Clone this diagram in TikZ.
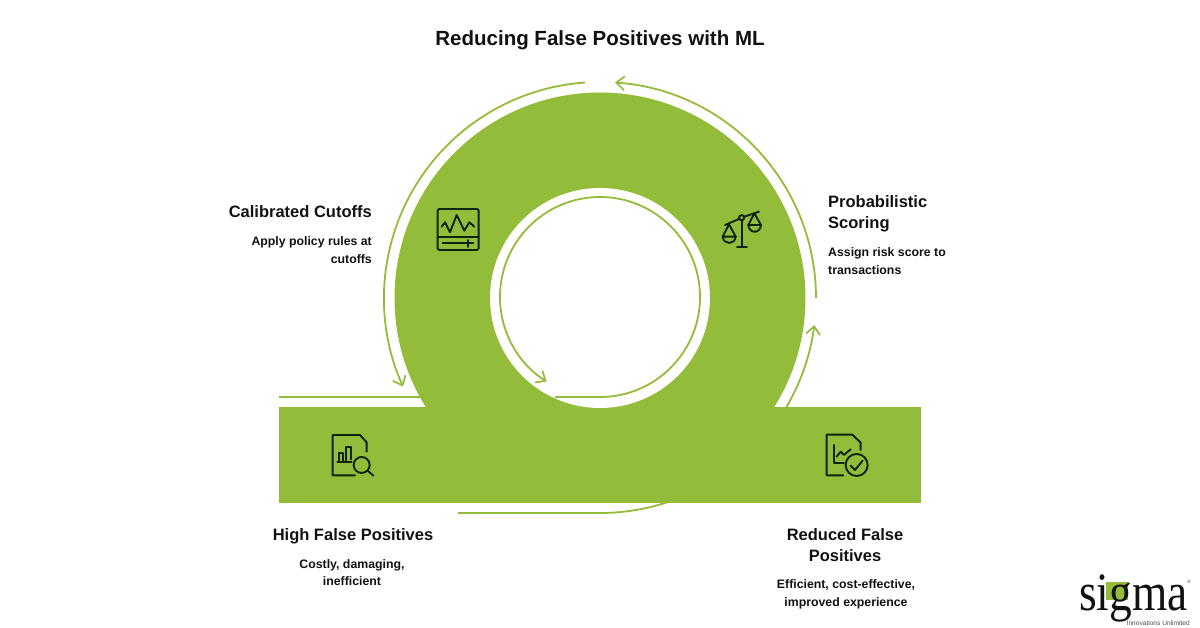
\documentclass[tikz,border=0pt]{standalone}
\usepackage{fontspec}
\setmainfont{Liberation Sans}
\newfontfamily\logofont[FakeStretch=0.84]{Liberation Serif}
\usetikzlibrary{arrows.meta,calc}
\definecolor{ringgreen}{HTML}{94BC3B}
\definecolor{inkdark}{HTML}{111111}
\definecolor{icondark}{HTML}{0E2410}
\tikzset{
    headtext/.style={font=\bfseries\fontsize{16.5}{21}\selectfont, text=inkdark, inner sep=0pt},
    bodytext/.style={font=\bfseries\fontsize{12.3}{18}\selectfont, text=inkdark, inner sep=0pt},
    flowline/.style={draw=ringgreen, line width=1.8pt},
    flowarrow/.style={flowline, -{Straight Barb[length=8pt,width=14pt,line width=1.7pt]}},
    iconline/.style={draw=icondark, line width=1.9pt, line join=round, line cap=round},
    iconbox/.style={shift={#1}, x=0.3333pt, y=-0.3333pt}
}
\begin{document}
\begin{tikzpicture}[x=1pt, y=1pt]
    \pgfmathsetmacro{\ringOuter}{205.5}
    \pgfmathsetmacro{\ringHole}{110}
    \pgfmathsetmacro{\flowOuter}{216}
    \pgfmathsetmacro{\flowInner}{100}
    \useasboundingbox (0,0) rectangle (1200,627);
    \coordinate (ringC) at (600,329);
    % thin lines lie under the green shape
    \coordinate (leftA) at (279,230);
    \coordinate (leftB) at (440,230);
    \coordinate (lowA) at (458,114);
    \coordinate (lowB) at (600,113);
    \coordinate (innerA) at (555,230);
    \coordinate (innerB) at (600,230);
    \draw[flowline] (leftA) -- (leftB);
    \draw[flowline] (lowA) -- (600,114) arc[start angle=-90, end angle=-60, radius=\flowOuter pt];

    \fill[ringgreen] (279,124) rectangle (921,220);
    \begin{scope}
        \clip (0,124) rectangle (1200,627);
        \fill[ringgreen] (ringC) circle (\ringOuter pt);
    \end{scope}
    \fill[white] (ringC) circle (\ringHole pt);

    \draw[flowline] (innerA) -- (innerB);
    \draw[flowarrow] (innerB) arc[start angle=-90, end angle=237.7, radius=\flowInner pt];
    \draw[flowarrow] ($(ringC)+(94:\flowOuter pt)$) arc[start angle=94, end angle=204.2, radius=\flowOuter pt];
    \draw[flowarrow] ($(ringC)+(0:\flowOuter pt)$) arc[start angle=0, end angle=86, radius=\flowOuter pt];
    \draw[flowarrow] ($(ringC)+(-30.4:\flowOuter pt)$) arc[start angle=-30.4, end angle=-7.2, radius=\flowOuter pt];

    \node[font=\bfseries\fontsize{20.5}{24}\selectfont, text=inkdark, inner sep=0pt, anchor=base] (title) at (600,581) {Reducing False Positives with ML};

    \foreach \n/\x/\y/\a/\t in
    {headCal/372/409/base east/Calibrated Cutoffs,
        headProb/828/419/base west/Probabilistic,
        headProbB/828/398/base west/Scoring,
        headHigh/353/87/base/High False Positives,
        headRed/845/87/base/Reduced False,
        headRedB/845/66/base/Positives
    }
    {
        \node[headtext, anchor=\a] (\n) at (\x,\y) {\t};
    };
    \foreach \n/\x/\y/\a/\t in
    {bodyCal/372/381.5/base east/Apply policy rules at,
        bodyCalB/372/363.5/base east/cutoffs,
        bodyProb/828/370.5/base west/Assign risk score to,
        bodyProbB/828/352.5/base west/transactions,
        bodyHigh/352/58.5/base/{Costly, damaging,},
        bodyHighB/352/41.5/base/inefficient,
        bodyRed/846/38.5/base/{Efficient, cost-effective,},
        bodyRedB/846/20.5/base/improved experience
    }
    {
        \node[bodytext, anchor=\a] (\n) at (\x,\y) {\t};
    };

    % pulse monitor
    \begin{scope}[iconbox={(420,437)}]
        \draw[iconline, rounded corners=1.5pt] (53,57) rectangle (176,180);
        \draw[iconline] (53,142) -- (176,142);
        \draw[iconline] (65,110) -- (75,97) -- (90,127) -- (110,75) -- (133,122) -- (148,97) -- (163,110);
        \draw[iconline] (68,160) -- (160,160);
        \draw[iconline] (145,150) -- (145,171);
    \end{scope}
    % balance
    \begin{scope}[iconbox={(705,432)}]
        \draw[iconline] (60,90) -- (102,72);
        \draw[iconline] (118,65) -- (162,50);
        \draw[iconline] (110,68) circle (2.6pt);
        \draw[iconline] (110,76) -- (110,155);
        \draw[iconline] (96,156) -- (126,156);
        \draw[iconline] (72,88) -- (53,125) -- (92,125) -- cycle;
        \draw[iconline] (53,125) .. controls (55,150) and (90,150) .. (92,125);
        \draw[iconline] (148,55) -- (130,90) -- (168,90) -- cycle;
        \draw[iconline] (130,90) .. controls (132,117) and (166,117) .. (168,90);
    \end{scope}
    % report with lens
    \begin{scope}[iconbox={(260,267)}]
        \draw[iconline] (285,346) -- (218,346) -- (218,225) -- (300,225) -- (320,247) -- (320,275);
        \draw[iconline] (232,305) -- (275,305);
        \draw[iconline] (238,305) -- (238,278) -- (250,278) -- (250,305);
        \draw[iconline] (258,305) -- (258,262) -- (272,262) -- (272,298);
        \draw[iconline] (305,315) circle (8pt);
        \draw[iconline] (323,332) -- (340,347);
    \end{scope}
    % report with check
    \begin{scope}[iconbox={(640,327)}]
        \draw[iconline] (610,526) -- (560,526) -- (560,404) -- (637,404) -- (662,428) -- (662,450);
        \draw[iconline] (582,435) -- (582,490) -- (612,490);
        \draw[iconline] (590,470) -- (602,455) -- (612,465) -- (632,448);
        \draw[iconline] (650,495) circle (11pt);
        \draw[iconline] (632,497) -- (645,510) -- (668,482);
    \end{scope}

    % logo
    \fill[ringgreen] (1106,27) rectangle (1128,45);
    \node[font=\logofont\fontsize{54}{54}\selectfont, text=inkdark, inner sep=0pt, anchor=base west] (logoWord) at (1079,17) {sigma};
    \node[font=\fontsize{6.6}{7}\selectfont, text=inkdark!75, inner sep=0pt, anchor=base east] (logoLine) at (1190,2) {Innovations Unlimited};
    \node[font=\fontsize{5}{6}\selectfont, text=inkdark!75, inner sep=0pt] (logoMark) at (1189,45) {®};
\end{tikzpicture}
\end{document}
